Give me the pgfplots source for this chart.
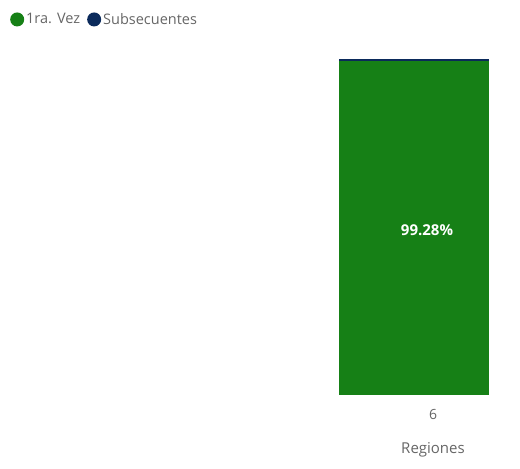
\documentclass[border=0pt]{standalone}
\usepackage{pgfplots}
\pgfplotsset{compat=1.18}
\usepackage{fontspec}
\setmainfont{Open Sans}
\definecolor{primera}{HTML}{168016}
\definecolor{subs}{HTML}{0B2A5B}
\definecolor{txtgray}{HTML}{666666}
\begin{document}
\begin{tikzpicture}
\path[use as bounding box] (0pt,0pt) rectangle (520pt,469pt);
\begin{axis}[
    at={(0pt,74pt)}, anchor=south west,
    scale only axis,
    width=520pt, height=336pt,
    xmin=0, xmax=520,
    ymin=0, ymax=100,
    ybar stacked,
    bar width=150,
    axis line style={draw=none},
    ytick=\empty,
    xtick={433},
    xticklabels={6},
    major tick length=0pt,
    tick label style={font=\fontsize{14}{16}\selectfont, text=txtgray},
    xticklabel style={anchor=center, yshift=-20pt},
    xlabel={Regiones},
    xlabel style={at={(433/520,0)}, anchor=center, yshift=-55pt,
        font=\fontsize{15}{17}\selectfont, text=txtgray},
    legend columns=2,
    legend style={at={(0,1)}, anchor=north west, xshift=10pt, yshift=48pt,
        draw=none, fill=none,
        font=\fontsize{14.5}{16}\selectfont, text=txtgray,
        /tikz/every even column/.append style={column sep=5pt},
        inner sep=0pt},
    legend image code/.code={\fill[#1] (3pt,0pt) circle (7pt);},
    ]
\addplot[fill=primera, draw=none,
    nodes near coords={\pgfmathprintnumber[assume math mode=true,fixed,precision=2,fixed zerofill]{\pgfplotspointmeta}\%},
    every node near coord/.style={font=\bfseries\fontsize{15}{17}\selectfont, text=white, anchor=center, xshift=13pt, yshift=-2pt}]
    coordinates {(414,99.28)};
\addplot[fill=subs, draw=none] coordinates {(414,0.72)};
\legend{1ra. Vez, Subsecuentes}
\end{axis}
\end{tikzpicture}
\end{document}
